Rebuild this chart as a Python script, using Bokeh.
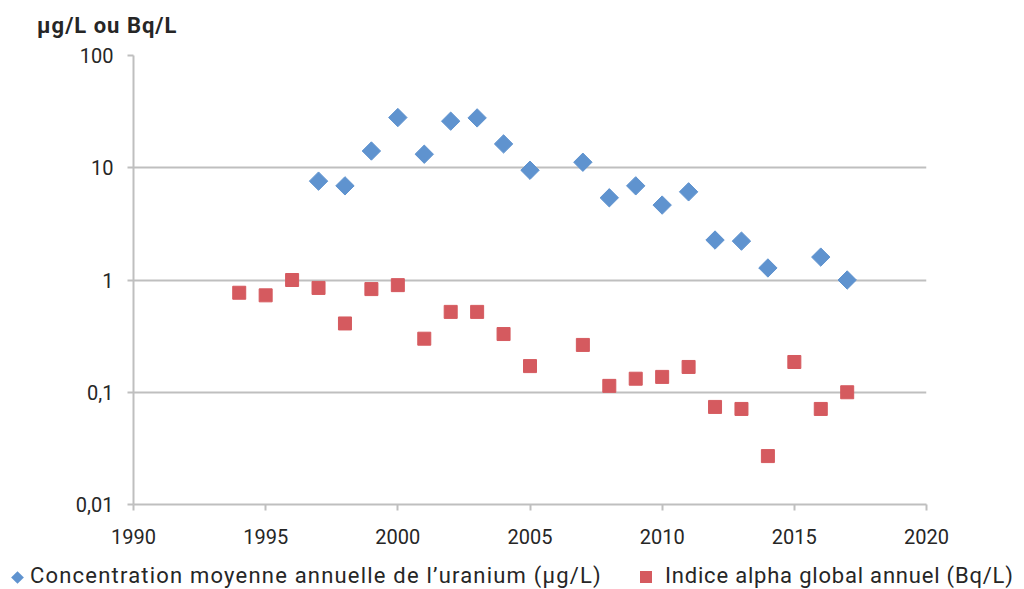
import math
from bokeh.plotting import figure
from bokeh.layouts import column
from bokeh.models import FixedTicker, Range1d, Div
from bokeh.embed import file_html
from bokeh.resources import INLINE

years_u = [1997, 1998, 1999, 2000, 2001, 2002, 2003, 2004, 2005, 2007, 2008, 2009, 2010, 2011, 2012, 2013, 2014, 2016, 2017]
uranium = [7.6, 6.9, 14.1, 28, 13.2, 26, 27.8, 16.3, 9.5, 11.2, 5.4, 6.9, 4.65, 6.1, 2.27, 2.22, 1.28, 1.6, 1.0]

years_a = [1994, 1995, 1996, 1997, 1998, 1999, 2000, 2001, 2002, 2003, 2004, 2005, 2007, 2008, 2009, 2010, 2011, 2012, 2013, 2014, 2015, 2016, 2017]
alpha = [0.77, 0.73, 1.0, 0.85, 0.41, 0.83, 0.90, 0.30, 0.52, 0.52, 0.33, 0.171, 0.264, 0.114, 0.132, 0.137, 0.168, 0.074, 0.071, 0.027, 0.186, 0.071, 0.1]

x_ticks = [1990, 1995, 2000, 2005, 2010, 2015, 2020]
y_ticks = [0.01, 0.1, 1, 10, 100]
y_tick_labels = ["0,01", "0,1", "1", "10", "100"]

label_u = "Concentration moyenne annuelle de l\u2019uranium (\u03bcg/L)"
label_a = "Indice alpha global annuel (Bq/L)"
y_title = "\u03bcg/L ou Bq/L"

FONT = "Roboto"
TXT = "#262626"
GRID = "#BFBFBF"
BLUE = "#5F93CF"
RED = "#D55A5F"

W = 1024
H_TITLE, H_MAIN, H_LEG = 40, 515, 34

# title strip (y-axis unit label)
title_div = Div(
    text=(f'<div style="position:relative; width:{W}px; height:{H_TITLE}px;">'
          f'<div style="position:absolute; left:37px; top:15px; font-family:{FONT}; '
          f'font-size:22px; line-height:22px; font-weight:bold; color:{TXT}; '
          f'letter-spacing:1px; white-space:nowrap;">{y_title}</div></div>'),
    width=W, height=H_TITLE, margin=0)

p = figure(width=W, height=H_MAIN, y_axis_type="log", output_backend="svg",
           toolbar_location=None, x_range=Range1d(1990, 2020), y_range=Range1d(0.01, 100),
           min_border_left=133, min_border_right=98, min_border_top=15, min_border_bottom=51)
p.outline_line_color = None
p.background_fill_color = "white"

p.scatter(years_u, uranium, marker="square", angle=math.pi / 4, size=13,
          color=BLUE, line_color=BLUE)
p.scatter(years_a, alpha, marker="square", size=13, color=RED, line_color=RED)

p.xaxis.ticker = FixedTicker(ticks=x_ticks)
p.yaxis.ticker = FixedTicker(ticks=y_ticks)
p.yaxis.major_label_overrides = {t: l for t, l in zip(y_ticks, y_tick_labels)}
for ax in (p.xaxis, p.yaxis):
    ax.axis_line_color = GRID
    ax.axis_line_width = 2
    ax.major_tick_line_color = GRID
    ax.major_tick_line_width = 2
    ax.major_tick_out = 6
    ax.major_tick_in = 0
    ax.minor_tick_line_color = None
    ax.major_label_text_font = FONT
    ax.major_label_text_font_size = "20px"
    ax.major_label_text_color = TXT
p.xaxis.major_label_standoff = 18
p.yaxis.major_label_standoff = 14

p.xgrid.grid_line_color = None
p.ygrid.grid_line_color = GRID
p.ygrid.grid_line_width = 2
p.ygrid.ticker = FixedTicker(ticks=y_ticks)

# legend strip below the chart (HTML, real text)
base_style = (f"position:absolute; top:10px; font-family:{FONT}; font-size:22px; "
              f"line-height:22px; color:{TXT}; white-space:nowrap;")
legend_html = (
    f'<div style="position:relative; width:{W}px; height:{H_LEG}px;">'
    f'<div style="position:absolute; left:13px; top:18px; width:9px; height:9px; '
    f'background:{BLUE}; transform:rotate(45deg);"></div>'
    f'<div style="{base_style} letter-spacing:1.2px; left:30px;">{label_u}</div>'
    f'<div style="position:absolute; left:640px; top:16px; width:12px; height:12px; '
    f'background:{RED};"></div>'
    f'<div style="{base_style} letter-spacing:0.8px; left:665px;">{label_a}</div>'
    f'</div>'
)
leg = Div(text=legend_html, width=W, height=H_LEG, margin=0)

layout = column(title_div, p, leg, spacing=0)
open("out.html", "w").write(file_html(layout, INLINE))
